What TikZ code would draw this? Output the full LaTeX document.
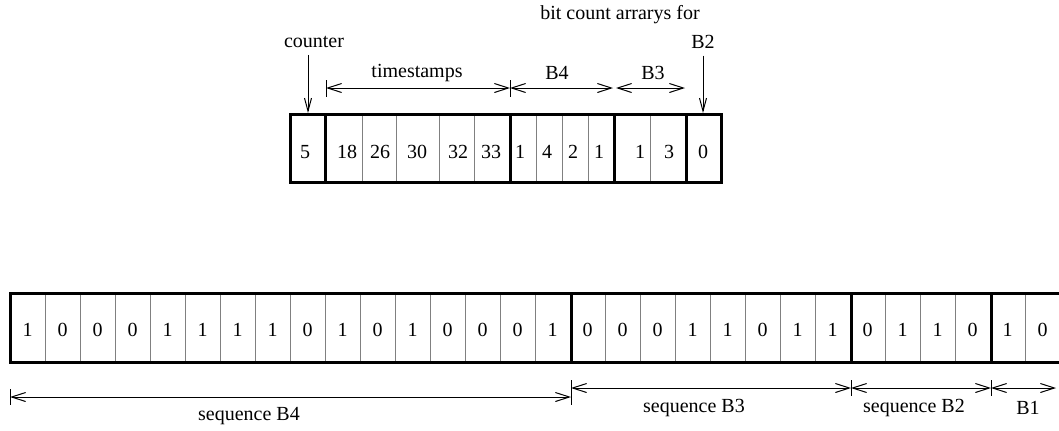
\documentclass[tikz,border=0pt]{standalone}
\usepackage{fontspec}
\setmainfont{Liberation Serif}
\usetikzlibrary{arrows.meta}

\begin{document}
\begin{tikzpicture}
[x=0.5pt, y=-0.5pt, font=\fontsize{10}{12}\selectfont,
 frame/.style={line width=1.5pt},
 cell/.style={line width=0.5pt, draw=gray},
 dim/.style={line width=0.5pt, {Straight Barb[length=7pt,width=4.5pt]}-{Straight Barb[length=7pt,width=4.5pt]}},
 ptr/.style={line width=0.5pt, -{Straight Barb[length=6.5pt,width=3.5pt]}},
 tick/.style={line width=0.5pt}]
\useasboundingbox (0,0) rectangle (1059,430);
\clip (0,0) rectangle (1059,430);

% window: counter, timestamps and bit count arrays
\draw[cell] (362,114) -- (362,182) (396,114) -- (396,182) (439,114) -- (439,182) (474,114) -- (474,182);
\draw[cell] (536,114) -- (536,182) (562,114) -- (562,182) (588,114) -- (588,182) (650,114) -- (650,182);
\draw[frame] (290,114) rectangle (325,182);
\draw[frame] (325,114) rectangle (510,182);
\draw[frame] (510,114) rectangle (614,182);
\draw[frame] (614,114) rectangle (686,182);
\draw[frame] (686,114) rectangle (721,182);
\node (cnt) at (305,152) {5};
\node (ts1) at (347,152) {18};
\node (ts2) at (380,152) {26};
\node (ts3) at (417,152) {30};
\node (ts4) at (458,152) {32};
\node (ts5) at (491,152) {33};
\node (bf1) at (520,152) {1};
\node (bf2) at (547,152) {4};
\node (bf3) at (573,152) {2};
\node (bf4) at (599,152) {1};
\node (bt1) at (640,152) {1};
\node (bt2) at (669,152) {3};
\node (bs1) at (703,152) {0};

\node (lcounter) at (314,42) {counter};
\node (lfor) at (620,15) {bit count arrarys for};
\node (lb2) at (703,42) {B2};
\coordinate (incnt) at (308,113);
\coordinate (inb2) at (703,113);
\draw[ptr] (lcounter.south -| incnt) -- (incnt);
\draw[ptr] (lb2) -- (inb2);

\coordinate (tsl) at (326,88);
\coordinate (tsr) at (510,88);
\coordinate (bfr) at (613,88);
\coordinate (btl) at (616,88);
\coordinate (btr) at (685,88);
\draw[tick] (326,80) -- (326,97) (510,80) -- (510,97);
\draw[dim] (tsl) -- (tsr);
\draw[dim] (tsr) -- (bfr);
\draw[dim] (btl) -- (btr);
\node (lts) at (417,73) {timestamps};
\node (lbf) at (557,73) {B4};
\node (lbt) at (653,73) {B3};

% bit sequences B4, B3, B2, B1
\foreach \i in {1,...,15,17,18,...,23,25,26,27,29}
  \draw[cell] (10+35*\i,293) -- (10+35*\i,362);
\draw[frame] (10,293) rectangle (571,362);
\draw[frame] (571,293) rectangle (851,362);
\draw[frame] (851,293) rectangle (991,362);
\draw[frame] (991,293) rectangle (1061,362);
\foreach \d [count=\i] in {1,0,0,0,1,1,1,1,0,1,0,1,0,0,0,1,0,0,0,1,1,0,1,1,0,1,1,0,1,0}
  \node (bit\i) at (35*\i-7.5,330) {\d};

\coordinate (sfl) at (10,397);
\coordinate (sfr) at (571,397);
\coordinate (stl) at (571,388);
\coordinate (str) at (851,388);
\coordinate (sbr) at (991,388);
\coordinate (sor) at (1056,388);
\draw[tick] (10,389) -- (10,405) (571,380) -- (571,405) (851,380) -- (851,396) (991,380) -- (991,396);
\draw[dim] (sfl) -- (sfr);
\draw[dim] (stl) -- (str);
\draw[dim] (str) -- (sbr);
\draw[dim] (sbr) -- (sor);
\node (lsf) at (249,416) {sequence B4};
\node (lst) at (694,408) {sequence B3};
\node (lsb) at (914,408) {sequence B2};
\node (lso) at (1028,408) {B1};
\end{tikzpicture}
\end{document}
